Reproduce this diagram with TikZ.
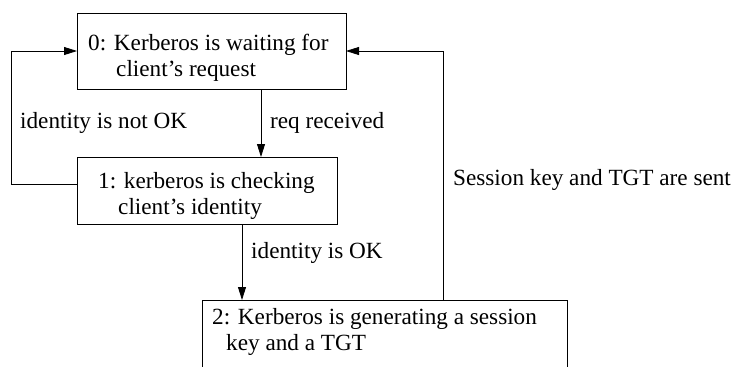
\documentclass[tikz,border=0pt]{standalone}
\usepackage{fontspec}
\setmainfont{Liberation Serif}
\usetikzlibrary{arrows.meta,calc}
\begin{document}
\begin{tikzpicture}[x=1pt,y=-1pt,
  box/.style={draw=black,line width=0.9pt,rectangle,inner sep=0pt,outer sep=0pt},
  txt/.style={anchor=base west,inner sep=0pt,font=\fontsize{23.2}{26}\selectfont},
  arr/.style={draw=black,line width=0.8pt,-{Triangle[length=13pt,width=8pt]}}]
\useasboundingbox (0,0) rectangle (732,367);
\clip (0,0) rectangle (732,367);
% boxes
\node[box,minimum width=269pt,minimum height=76pt] (b0) at (211.5,51) {};
\node[box,minimum width=260pt,minimum height=67pt] (b1) at (207,190.5) {};
\node[box,minimum width=365pt,minimum height=76pt] (b2) at (384.5,338) {};
% box texts
\node[txt] (t0a) at (88,50) {0: Kerberos is waiting for};
\node[txt] (t0b) at (116,76) {client’s request};
\node[txt] (t1a) at (98,188) {1: kerberos is checking};
\node[txt] (t1b) at (118,214) {client’s identity};
\node[txt] (t2a) at (212,324) {2: Kerberos is generating a session};
\node[txt] (t2b) at (226,350) {key and a TGT};
% helper coordinates
\coordinate (cl) at (11,184);
\coordinate (xa) at (261,0);
\coordinate (xb) at (242,0);
\coordinate (xc) at (443,0);
% connectors
\draw[arr] ($(b1.west)+(0,-6.5)$) -- (cl) |- (b0.west);
\draw[arr] (b0.south -| xa) -- (b1.north -| xa);
\draw[arr] (b1.south -| xb) -- (b2.north -| xb);
\draw[arr] (b2.north -| xc) |- (b0.east);
% labels
\node[txt] (l1) at (20,128) {identity is not OK};
\node[txt] (l2) at (270,128) {req received};
\node[txt] (l3) at (251,258) {identity is OK};
\node[txt] (l4) at (453,185) {Session key and TGT are sent};
\end{tikzpicture}
\end{document}
